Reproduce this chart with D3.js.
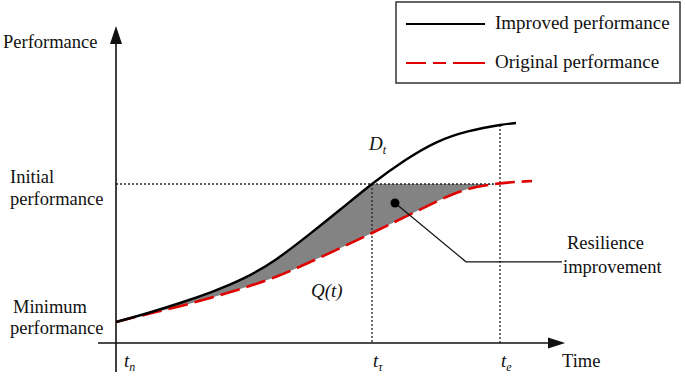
<!DOCTYPE html>
<html><head><meta charset="utf-8">
<script src="https://cdn.jsdelivr.net/npm/d3@7"></script>
<style>html,body{margin:0;padding:0;background:#fff;} text{font-family:"Liberation Serif","Times New Roman",serif;fill:#111;}</style>
</head><body>
<svg id="c" width="685" height="378"></svg>
<script>
// ---- data ----
const times    = [0, 8, 16, 24, 32, 40, 48, 56, 64, 72, 80, 88, 96, 100, 104];
const improved = [10.5, 15, 20, 25.6, 32.4, 41.8, 53.8, 66.6, 79.5, 91, 100.2, 105.8, 109, 110, null];
const original = [10.5, 14.5, 18.4, 22.8, 27.6, 33.1, 40, 47.4, 55, 62.8, 70.6, 77, 79.8, 80.5, 81];
const minPerf = 10.5, initPerf = 79.5;
const tickTimes = [0, 64, 96];
const tickSubs = ["n", "τ", "e"];
const legendLabels = ["Improved performance", "Original performance"];

const svg = d3.select("#c");
const x = d3.scaleLinear().domain([0, 112]).range([116, 564]);
const y = d3.scaleLinear().domain([0, 160]).range([343, 23]);

const pts = times.map((t, i) => ({t, a: improved[i], b: original[i]}));

// clip for shaded area: below initial performance line
svg.append("clipPath").attr("id", "clipShade").append("rect")
  .attr("x", x(0)).attr("y", y(initPerf)).attr("width", x(96) - x(0)).attr("height", y(0) - y(initPerf));

const area = d3.area().defined(d => d.a != null)
  .x(d => x(d.t)).y0(d => y(d.b)).y1(d => y(d.a)).curve(d3.curveNatural);
svg.append("path").datum(pts).attr("d", area)
  .attr("fill", "#838383").attr("clip-path", "url(#clipShade)");

// dotted reference lines
const dot = g => g.attr("stroke", "#222").attr("stroke-width", 1.3).attr("stroke-dasharray", "2,2").attr("fill", "none");
svg.append("line").call(dot).attr("x1", x(0)).attr("x2", x(96)).attr("y1", y(initPerf)).attr("y2", y(initPerf));
svg.append("line").call(dot).attr("x1", x(64)).attr("x2", x(64)).attr("y1", y(initPerf)).attr("y2", y(0));
svg.append("line").call(dot).attr("x1", x(96)).attr("x2", x(96)).attr("y1", y(109)).attr("y2", y(0));

// axes
svg.append("line").attr("x1", x(-4.5)).attr("x2", x(108)).attr("y1", y(0)).attr("y2", y(0)).attr("stroke", "#111").attr("stroke-width", 1.6);
svg.append("path").attr("d", `M${x(108)},${y(0)-5.5}L${x(112.3)},${y(0)}L${x(108)},${y(0)+5.5}Z`).attr("fill", "#111");
svg.append("line").attr("x1", x(0)).attr("x2", x(0)).attr("y1", y(-14.5)).attr("y2", y(149.5)).attr("stroke", "#111").attr("stroke-width", 1.6);
svg.append("path").attr("d", `M${x(0)-6},${y(149.5)}L${x(0)},${y(158.5)}L${x(0)+6},${y(149.5)}Z`).attr("fill", "#111");

// curves
const line = key => d3.line().defined(d => d[key] != null).x(d => x(d.t)).y(d => y(d[key])).curve(d3.curveNatural);
svg.append("path").datum(pts).attr("d", line("b")).attr("fill", "none")
  .attr("stroke", "#e00000").attr("stroke-width", 2.6).attr("stroke-dasharray", "20,7");
svg.append("path").datum(pts).attr("d", line("a")).attr("fill", "none")
  .attr("stroke", "#000").attr("stroke-width", 2.4);

// resilience improvement annotation
svg.append("polyline").attr("points", `${x(69.75)},${y(70)} ${x(87.5)},${y(40.6)} ${x(111.5)},${y(40.6)}`)
  .attr("fill", "none").attr("stroke", "#111").attr("stroke-width", 1.2);
svg.append("circle").attr("cx", x(69.75)).attr("cy", y(70)).attr("r", 4.5).attr("fill", "#000");
svg.append("text").attr("x", 567).attr("y", 249).attr("font-size", 18.5).text("Resilience");
svg.append("text").attr("x", 563).attr("y", 273).attr("font-size", 18.5).text("improvement");

// curve labels
const dt = svg.append("text").attr("x", 369).attr("y", 150).attr("font-size", 19).attr("font-style", "italic");
dt.append("tspan").text("D");
dt.append("tspan").attr("font-size", 12).attr("dy", 4).text("t");
svg.append("text").attr("x", 311).attr("y", 297).attr("font-size", 19).attr("font-style", "italic").text("Q(t)");

// y labels
svg.append("text").attr("x", 3).attr("y", 48).attr("font-size", 18.5).text("Performance");
svg.append("text").attr("x", 10).attr("y", 183).attr("font-size", 18.5).text("Initial");
svg.append("text").attr("x", 10).attr("y", 205).attr("font-size", 18.5).text("performance");
svg.append("text").attr("x", 13).attr("y", 313).attr("font-size", 18.5).text("Minimum");
svg.append("text").attr("x", 10).attr("y", 334).attr("font-size", 18.5).text("performance");

// x tick labels
tickTimes.forEach((t, i) => {
  const tx = svg.append("text").attr("x", x(t) + (i === 0 ? 8 : 1)).attr("y", 367).attr("font-size", 19).attr("font-style", "italic");
  tx.append("tspan").text("t");
  tx.append("tspan").attr("font-size", 12).attr("dy", 4).text(tickSubs[i]);
});
svg.append("text").attr("x", 562).attr("y", 367).attr("font-size", 18.5).text("Time");

// legend
svg.append("rect").attr("x", 396).attr("y", 2).attr("width", 284).attr("height", 81)
  .attr("fill", "#fff").attr("stroke", "#333").attr("stroke-width", 1.5);
svg.append("line").attr("x1", 406).attr("x2", 485).attr("y1", 24).attr("y2", 24).attr("stroke", "#000").attr("stroke-width", 1.8);
svg.append("line").attr("x1", 406).attr("x2", 485).attr("y1", 63).attr("y2", 63).attr("stroke", "#e00000").attr("stroke-width", 1.8).attr("stroke-dasharray", "20,7,13,7,40");
svg.append("text").attr("x", 495).attr("y", 29).attr("font-size", 19).text(legendLabels[0]);
svg.append("text").attr("x", 495).attr("y", 68).attr("font-size", 19).text(legendLabels[1]);
</script>
</body></html>
